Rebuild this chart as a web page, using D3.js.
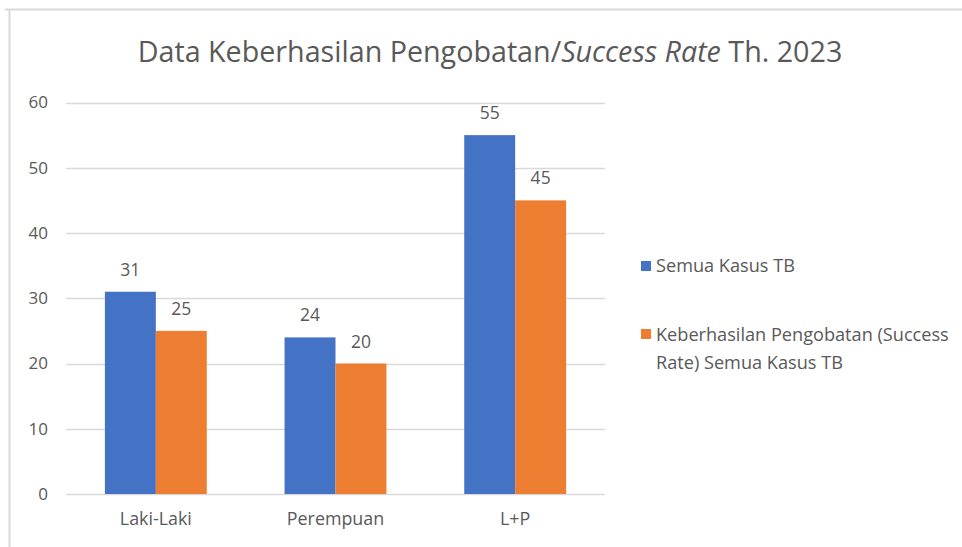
<!DOCTYPE html>
<html>
<head>
<meta charset="utf-8">
<script src="https://cdn.jsdelivr.net/npm/d3@7"></script>
<style>
  html, body { margin: 0; padding: 0; background: #fff; }
  svg { display: block; font-family: "Open Sans", "Noto Sans", sans-serif; }
</style>
</head>
<body>
<svg id="chart" width="962" height="547"></svg>
<script>
// data
const categories = ["Laki-Laki", "Perempuan", "L+P"];
const seriesNames = ["Semua Kasus TB", "Keberhasilan Pengobatan (Success Rate) Semua Kasus TB"];
const semuaKasus = [31, 24, 55];
const successRate = [25, 20, 45];
const yTicks = [0, 10, 20, 30, 40, 50, 60];
const colors = ["#4472C4", "#ED7D31"];

const W = 962, H = 547;
const textColor = "#595959";
const svg = d3.select("#chart");

// chart frame (only top and left edges visible)
svg.append("line").attr("x1", 5).attr("x2", W).attr("y1", 9.5).attr("y2", 9.5)
  .attr("stroke", "#d9d9d9").attr("stroke-width", 2);
svg.append("line").attr("x1", 9.5).attr("x2", 9.5).attr("y1", 9).attr("y2", H)
  .attr("stroke", "#d9d9d9").attr("stroke-width", 2);

// scale font size so the text spans a given width
function fitWidth(sel, target) {
  const w = sel.node().getComputedTextLength();
  const fs = parseFloat(sel.attr("font-size"));
  return fs * target / w;
}

// title
const title = svg.append("text")
  .attr("x", 490).attr("y", 62)
  .attr("text-anchor", "middle")
  .attr("font-size", 26)
  .attr("fill", textColor);
title.append("tspan").text("Data Keberhasilan Pengobatan/");
title.append("tspan").attr("font-style", "italic").text("Success Rate");
title.append("tspan").text(" Th. 2023");
title.attr("font-size", fitWidth(title, 705));

// scales
const x0 = d3.scaleBand().domain(categories).range([66, 605])
  .paddingInner(0.433).paddingOuter(0.2165);
const x1 = d3.scaleBand().domain([0, 1]).range([0, x0.bandwidth()]);
const y = d3.scaleLinear().domain([0, 60]).range([494, 102.5]);

// gridlines
svg.append("g").selectAll("line").data(yTicks).join("line")
  .attr("x1", 66).attr("x2", 605)
  .attr("y1", d => Math.round(y(d)) + 0.5).attr("y2", d => Math.round(y(d)) + 0.5)
  .attr("stroke", "#d9d9d9").attr("stroke-width", 1.5);

// y axis labels
const yAxis = svg.append("g").attr("transform", "translate(48,0)")
  .call(d3.axisLeft(y).tickValues(yTicks).tickSize(0).tickPadding(0));
yAxis.select(".domain").remove();
yAxis.attr("font-family", null).attr("font-size", 17);
yAxis.selectAll("text").attr("fill", textColor);

// x axis labels
const xAxis = svg.append("g").attr("transform", "translate(0,512)")
  .call(d3.axisBottom(x0).tickSize(0).tickPadding(0));
xAxis.select(".domain").remove();
xAxis.attr("font-family", null).attr("font-size", 16);
xAxis.selectAll("text").attr("fill", textColor);
const firstLabel = xAxis.select(".tick text");
const w0 = firstLabel.node().getComputedTextLength();
xAxis.attr("font-size", 16 * 72 / w0);

// bars
const rows = categories.map((c, i) => ({ cat: c, vals: [semuaKasus[i], successRate[i]] }));
const groups = svg.append("g").selectAll("g").data(rows).join("g")
  .attr("transform", d => `translate(${x0(d.cat)},0)`);

groups.selectAll("rect").data(d => d.vals.map((v, k) => ({ v, k }))).join("rect")
  .attr("x", d => x1(d.k))
  .attr("y", d => y(d.v))
  .attr("width", x1.bandwidth())
  .attr("height", d => y(0) - y(d.v))
  .attr("fill", d => colors[d.k]);

groups.selectAll("text.val").data(d => d.vals.map((v, k) => ({ v, k }))).join("text")
  .attr("class", "val")
  .attr("x", d => x1(d.k) + x1.bandwidth() / 2)
  .attr("y", d => y(d.v) - 16)
  .attr("text-anchor", "middle")
  .attr("font-size", 17.5)
  .attr("fill", textColor)
  .text(d => d.v);

// legend
const legend = svg.append("g").attr("font-size", 16);
legend.append("rect").attr("x", 641).attr("y", 261).attr("width", 10).attr("height", 10)
  .attr("fill", colors[0]);
legend.append("text").attr("x", 656).attr("y", 272)
  .attr("fill", textColor).text(seriesNames[0]);

legend.append("rect").attr("x", 641).attr("y", 329).attr("width", 10).attr("height", 10)
  .attr("fill", colors[1]);
const l2 = legend.append("text").attr("x", 656).attr("y", 341)
  .attr("fill", textColor);
const l2a = l2.append("tspan").attr("x", 656).text("Keberhasilan Pengobatan (Success");
l2.append("tspan").attr("x", 656).attr("dy", 28).text("Rate) Semua Kasus TB");
legend.attr("font-size", 16 * 293 / l2a.node().getComputedTextLength());
</script>
</body>
</html>
